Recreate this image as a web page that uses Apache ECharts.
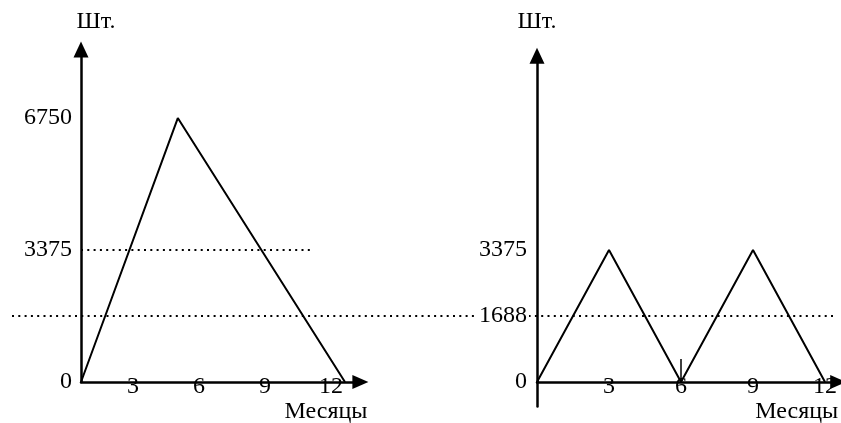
<!DOCTYPE html>
<html>
<head>
<meta charset="utf-8">
<script src="https://cdn.jsdelivr.net/npm/echarts@6/dist/echarts.min.js"></script>
<style>
  html, body { margin: 0; padding: 0; background: #fff; }
  #chart { width: 841px; height: 423px; }
</style>
</head>
<body>
<div id="chart"></div>
<script>
// Stock level over the year: single delivery (left) vs. two deliveries (right)
const months = [3, 6, 9, 12];

const singleMonths = [0, 4.4, 12];
const singleStock = [0, 6750, 0];

const doubleMonths = [0, 3, 6, 9, 12];
const doubleStock = [0, 3375, 0, 3375, 0];

const leftTicks = [0, 3375, 6750];
const rightTicks = [0, 1688, 3375];

const avgSingle = 3375;      // average stock, single delivery
const avgSingleEnd = 10.5;   // how far the dotted level runs, months
const avgDouble = 1688;      // average stock, two deliveries
const reorderMonth = 6;      // marker at the second delivery

const unitY = 'Шт.';
const unitX = 'Месяцы';

const FONT = '"Liberation Serif", "Times New Roman", serif';
const FS = 24;
const INK = '#000';

const pair = (xs, ys) => xs.map((x, i) => [x, ys[i]]);
const plain = (v) => String(v);

const dotted = { color: INK, width: 2, type: [2, 4.3] };
const axisLine = (size) => ({
  show: true,
  onZero: true,
  symbol: ['none', 'triangle'],
  symbolSize: size,
  lineStyle: { color: INK, width: 2.5 }
});
const txt = { color: INK, fontFamily: FONT, fontSize: FS };
const free = { containLabel: false, outerBoundsMode: 'none' };

const chart = echarts.init(document.getElementById('chart'), null, { renderer: 'canvas' });

chart.setOption({
  backgroundColor: '#fff',
  animation: false,
  grid: [
    Object.assign({ left: 81, bottom: 41, width: 279.4, height: 332.4 }, free),
    Object.assign({ left: 537, bottom: 41, width: 301.2, height: 326.2 }, free),
    Object.assign({ left: 12, right: 6, bottom: 41, height: 332.4 }, free),
    // short stub of the right vertical axis below zero
    Object.assign({ left: 537, top: 382, width: 10, height: 24.5 }, free)
  ],
  xAxis: [
    {
      gridIndex: 0, type: 'value', min: 0, max: 12.7,
      axisLine: axisLine([14, 16]),
      axisTick: { show: false }, splitLine: { show: false },
      axisLabel: Object.assign({ customValues: months, margin: 5, verticalAlign: 'middle',
        padding: [0, 28, 0, 0], formatter: plain }, txt),
      name: unitX, nameLocation: 'end', nameGap: 7,
      nameTextStyle: Object.assign({ align: 'right', verticalAlign: 'top', padding: [18, 0, 0, 0] }, txt)
    },
    {
      gridIndex: 1, type: 'value', min: 0, max: 12.55,
      axisLine: axisLine([14, 16]),
      axisTick: { show: false }, splitLine: { show: false },
      axisLabel: Object.assign({ customValues: months, margin: 5, verticalAlign: 'middle',
        formatter: plain }, txt),
      name: unitX, nameLocation: 'end', nameGap: 0,
      nameTextStyle: Object.assign({ align: 'right', verticalAlign: 'top', padding: [18, 0, 0, 0] }, txt)
    },
    { gridIndex: 2, type: 'value', min: 0, max: 1, show: false },
    { gridIndex: 3, type: 'value', min: 0, max: 1, show: false }
  ],
  yAxis: [
    {
      gridIndex: 0, type: 'value', min: 0, max: 8500,
      axisLine: axisLine([15, 16]),
      axisTick: { show: false }, splitLine: { show: false },
      axisLabel: Object.assign({ customValues: leftTicks, margin: 9, formatter: plain }, txt),
      name: unitY, nameLocation: 'end', nameGap: 28,
      nameTextStyle: Object.assign({ align: 'center', verticalAlign: 'middle', padding: [0, 0, 0, 30] }, txt)
    },
    {
      gridIndex: 1, type: 'value', min: 0, max: 8340, z: 5,
      axisLine: axisLine([15, 16]),
      axisTick: { show: false }, splitLine: { show: false },
      axisLabel: Object.assign({ customValues: rightTicks, margin: 8, formatter: plain,
        backgroundColor: '#fff', padding: [0, 2] }, txt),
      name: unitY, nameLocation: 'end', nameGap: 34,
      nameTextStyle: Object.assign({ align: 'center', verticalAlign: 'middle' }, txt)
    },
    { gridIndex: 2, type: 'value', min: 0, max: 8500, show: false },
    {
      gridIndex: 3, type: 'value', min: 0, max: 1,
      axisLine: { show: true, onZero: false, lineStyle: { color: INK, width: 2.5 } },
      axisTick: { show: false }, axisLabel: { show: false }, splitLine: { show: false }
    }
  ],
  series: [
    {
      // average-stock level spanning both panels
      type: 'line', xAxisIndex: 2, yAxisIndex: 2, data: [], z: 1,
      markLine: {
        silent: true, symbol: 'none', label: { show: false },
        lineStyle: dotted,
        data: [{ yAxis: avgDouble }]
      }
    },
    {
      type: 'line', xAxisIndex: 0, yAxisIndex: 0, z: 3,
      data: pair(singleMonths, singleStock),
      showSymbol: false, lineStyle: { color: INK, width: 2 },
      markLine: {
        silent: true, symbol: 'none', label: { show: false },
        lineStyle: dotted,
        data: [[{ coord: [0, avgSingle] }, { coord: [avgSingleEnd, avgSingle] }]]
      }
    },
    {
      type: 'line', xAxisIndex: 1, yAxisIndex: 1, z: 3,
      data: pair(doubleMonths, doubleStock),
      showSymbol: false, lineStyle: { color: INK, width: 2 },
      markLine: {
        silent: true, symbol: 'none', label: { show: false },
        lineStyle: { color: INK, width: 1.5, type: 'solid' },
        data: [[{ coord: [reorderMonth, 0] }, { coord: [reorderMonth, 590] }]]
      }
    },
    { type: 'line', xAxisIndex: 3, yAxisIndex: 3, data: [] }
  ]
});
</script>
</body>
</html>
